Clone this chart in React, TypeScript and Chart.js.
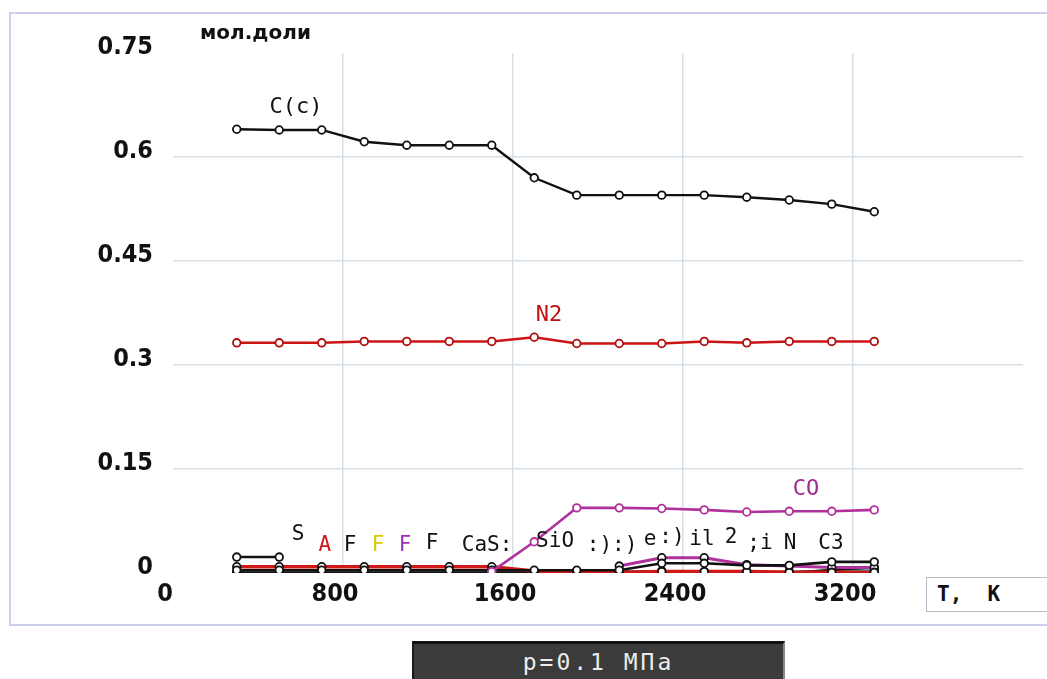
import React, { useEffect, useRef } from "react";
import { Chart, registerables } from "chart.js";

Chart.register(...registerables);

// Temperatures, K
const temps = [300, 500, 700, 900, 1100, 1300, 1500, 1700, 1900, 2100, 2300, 2500, 2700, 2900, 3100, 3300];

// Mole fractions
const carbonC = [0.640, 0.639, 0.639, 0.622, 0.617, 0.617, 0.617, 0.570, 0.545, 0.545, 0.545, 0.545, 0.542, 0.538, 0.532, 0.521];
const nitrogenN2 = [0.332, 0.332, 0.332, 0.334, 0.334, 0.334, 0.334, 0.340, 0.331, 0.331, 0.331, 0.334, 0.332, 0.334, 0.334, 0.334];
const carbonCO = [null, null, null, null, null, null, 0.002, 0.045, 0.094, 0.094, 0.093, 0.091, 0.088, 0.089, 0.089, 0.091];
const sulfurS = [0.023, 0.023, null, null, null, null, null, null, null, null, null, null, null, null, null, null];
const lowRed = [0.009, 0.009, 0.009, 0.009, 0.009, 0.009, 0.009, 0.003, 0.001, 0.001, 0.002, 0.002, 0.002, 0.001, 0.001, 0.001];
const lowBlackA = [0.004, 0.004, 0.004, 0.004, 0.004, 0.004, 0.004, 0.004, 0.004, 0.004, 0.014, 0.014, 0.011, 0.011, 0.016, 0.016];
const lowBlackB = [0.001, 0.001, 0.001, 0.001, 0.001, 0.001, 0.001, 0.001, 0.001, 0.001, 0.001, 0.001, 0.001, 0.001, 0.004, 0.008];
const lowGreen = [0, 0, 0, 0, 0, 0, 0, 0, 0, 0, 0, 0, 0, 0, 0.005, 0.007];
const lowTeal = [null, null, null, null, null, null, null, 0.002, 0.003, 0.003, 0.003, 0.002, 0.002, 0.002, 0.003, 0.004];
const lowMagenta = [null, null, null, null, null, null, null, null, null, 0.010, 0.022, 0.022, 0.012, 0.010, 0.008, 0.008];

// Axis ticks
const xTickStep = 800;
const xMax = 4000;
const yTickStep = 0.15;
const yMax = 0.75;

// Species labels (text, T, value, colour)
const labelTexts = ["C(c)", "N2", "CO", "S", "A", "F", "F", "F", "F", "CaS:", "SiO", ":):)", "e", ":)", "il", "2", ";i", "N", "C3"];
const labelTemps = [579, 1769, 2979, 588, 715, 833, 965, 1092, 1219, 1478, 1798, 2066, 2245, 2348, 2489, 2626, 2762, 2904, 3096];
const labelValues = [0.672, 0.371, 0.121, 0.055, 0.039, 0.040, 0.039, 0.040, 0.043, 0.039, 0.045, 0.040, 0.048, 0.051, 0.048, 0.051, 0.043, 0.042, 0.042];
const labelColors = ["#111", "#c01010", "#a02890", "#111", "#d01818", "#111", "#d8c800", "#9a30b8", "#111", "#111", "#111", "#111", "#111", "#111", "#111", "#111", "#111", "#111", "#111"];

const toPoints = (vals: (number | null)[]) => temps.map((t, i) => ({ x: t, y: vals[i] }));

const labelPlugin = {
  id: "speciesLabels",
  afterDatasetsDraw(chart: any) {
    const { ctx, scales } = chart;
    ctx.save();
    ctx.textAlign = "center";
    ctx.textBaseline = "middle";
    labelTexts.forEach((txt, i) => {
      const big = i < 3;
      ctx.font = `${big ? 22 : 21}px "DejaVu Sans Mono"`;
      ctx.fillStyle = labelColors[i];
      const x = scales.x.getPixelForValue(labelTemps[i]);
      const y = scales.y.getPixelForValue(labelValues[i]);
      ctx.fillText(txt, x, y);
    });
    ctx.restore();
  },
};

export default function App() {
  const ref = useRef<HTMLCanvasElement | null>(null);

  useEffect(() => {
    document.body.style.margin = "0";
    if (!ref.current) return;
    const ds = (data: (number | null)[], color: string, width = 2.4, ptBorder?: string) => ({
      data: toPoints(data),
      borderColor: color,
      borderWidth: width,
      pointRadius: 3.8,
      pointBorderWidth: 1.8,
      pointBackgroundColor: "#fff",
      pointBorderColor: ptBorder || color,
      spanGaps: false,
      tension: 0,
    });
    const chart = new Chart(ref.current, {
      type: "line",
      data: {
        datasets: [
          ds(carbonC, "#111"),
          ds(nitrogenN2, "#cc1414", 2.4, "#b01010"),
          ds(carbonCO, "#b0309c", 2.6),
          ds(lowBlackA, "#111", 2.6),
          ds(sulfurS, "#111"),
          ds(lowRed, "#d01818", 3.6, "#111"),
          ds(lowMagenta, "#b0309c", 3, "#111"),
          ds(lowBlackB, "#111", 2.2),
          ds(lowTeal, "#30a8c0", 2, "#111"),
          ds(lowGreen, "#1a7a2a", 2, "#1a7a2a"),
        ] as any,
      },
      options: {
        animation: false,
        responsive: false,
        maintainAspectRatio: false,
        layout: { padding: { left: 0, top: 53, right: 24, bottom: 0 } },
        plugins: { legend: { display: false }, tooltip: { enabled: false } },
        scales: {
          x: {
            type: "linear",
            min: 0,
            max: xMax,
            afterFit: (s: any) => { s.height = 106; },
            border: { display: false },
            grid: {
              drawTicks: false,
              lineWidth: 1.5,
              color: (c: any) => (c.tick && (c.tick.value === 0 || c.tick.value === xMax) ? "rgba(0,0,0,0)" : "#d6e0e6"),
            },
            ticks: {
              stepSize: xTickStep,
              padding: 6,
              labelOffset: -8,
              color: "#111",
              font: { family: "DejaVu Sans Condensed", size: 25, weight: "bold" },
              callback: (v: any) => (v === xMax ? "" : String(v)),
            },
          },
          y: {
            min: 0,
            max: yMax,
            afterFit: (s: any) => { s.width = 173; },
            border: { display: false },
            grid: {
              drawTicks: false,
              lineWidth: 1.5,
              color: (c: any) => (c.tick && (c.tick.value === 0 || Math.abs(c.tick.value - yMax) < 1e-6) ? "rgba(0,0,0,0)" : "#d6e0e6"),
            },
            ticks: {
              stepSize: yTickStep,
              padding: 20,
              labelOffset: -6,
              color: "#111",
              font: { family: "DejaVu Sans Condensed", size: 25, weight: "bold" },
              callback: (v: any) => (v === 0 ? "0" : String(Number(Number(v).toFixed(2)))),
            },
          },
        },
      },
      plugins: [labelPlugin],
    });
    return () => chart.destroy();
  }, []);

  return (
    <div style={{ position: "relative", width: 1047, height: 679, overflow: "hidden", background: "#fff" }}>
      <div style={{ position: "absolute", left: 9, top: 12, width: 1060, height: 614, border: "2px solid #cdd0ea", boxSizing: "border-box" }} />
      <canvas ref={ref} width={1047} height={679} style={{ position: "absolute", left: 0, top: 0, width: 1047, height: 679 }} />
      <div style={{ position: "absolute", left: 200, top: 20, font: 'bold 20px "DejaVu Sans"', color: "#111" }}>мол.доли</div>
      <div style={{ position: "absolute", left: 926, top: 577, width: 130, height: 35, border: "1.5px solid #b8bcc8", boxSizing: "border-box", background: "#fff" }}>
        <div style={{ position: "absolute", left: 10, top: 4, font: 'bold 21px "DejaVu Sans Mono"', color: "#111", whiteSpace: "pre" }}>T,  K</div>
      </div>
      <div style={{ position: "absolute", left: 412, top: 641, width: 373, height: 50, background: "#3b3b3b", borderTop: "3px solid #111", borderLeft: "2px solid #1a1a1a", borderRight: "2px solid #8a8a8a", boxSizing: "border-box", textAlign: "center" }}>
        <div style={{ font: '23px "DejaVu Sans Mono"', color: "#ececec", letterSpacing: 3, marginTop: 5, whiteSpace: "pre" }}>p=0.1 МПа</div>
      </div>
    </div>
  );
}
